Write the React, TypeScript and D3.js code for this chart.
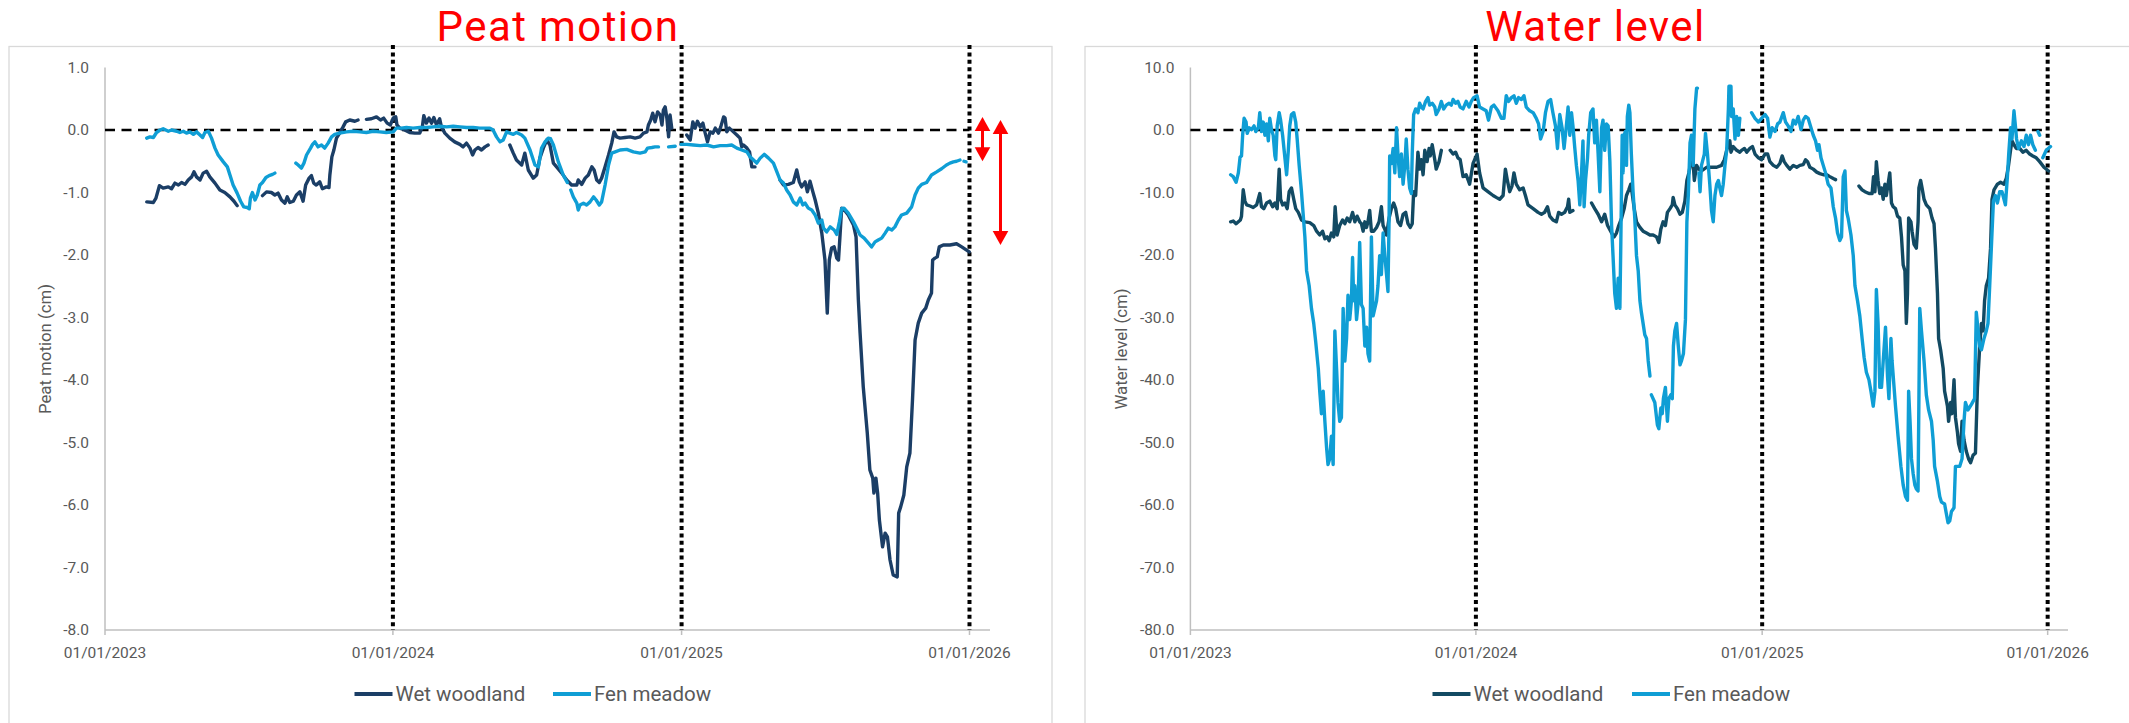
import React from 'react';
import * as d3 from 'd3';

type Pt = [number, number] | null;

// ---------- labels / categories ----------
const seriesNames = ['Wet woodland', 'Fen meadow'];
const peatTitle = 'Peat motion';
const waterTitle = 'Water level';
const peatAxisTitle = 'Peat motion (cm)';
const waterAxisTitle = 'Water level (cm)';
const yearTicks = [2023, 2024, 2025, 2026];
const dividerYears = [2024, 2025, 2026];
const peatTicks = [1, 0, -1, -2, -3, -4, -5, -6, -7, -8];
const waterTicks = [10, 0, -10, -20, -30, -40, -50, -60, -70, -80];
// red annotation arrows on the peat chart: [top, bottom] in cm
const peatArrows: [number, number][] = [[0.21, -0.5], [0.16, -1.84]];

// ---------- data: [decimal year, value], null = gap ----------
const peatWoodland: Pt[] = [
  [2023.145,-1.15],[2023.168,-1.16],[2023.177,-1.09],[2023.189,-0.89],[2023.202,-0.93],[2023.220,-0.91],[2023.231,-0.94],[2023.243,-0.85],[2023.255,-0.88],[2023.266,-0.84],[2023.278,-0.87],[2023.289,-0.80],[2023.301,-0.75],[2023.309,-0.67],[2023.318,-0.75],[2023.330,-0.80],[2023.341,-0.69],[2023.353,-0.66],[2023.364,-0.75],[2023.382,-0.85],[2023.399,-0.96],[2023.416,-1.00],[2023.434,-1.07],[2023.448,-1.14],[2023.459,-1.21],
  null,
  [2023.547,-1.05],[2023.561,-0.99],[2023.578,-1.00],[2023.590,-1.04],[2023.601,-1.01],[2023.613,-1.12],[2023.625,-1.17],[2023.633,-1.07],[2023.642,-1.16],[2023.654,-1.14],[2023.665,-1.04],[2023.677,-0.99],[2023.688,-1.14],[2023.697,-0.88],[2023.709,-0.77],[2023.717,-0.73],[2023.725,-0.85],[2023.734,-0.88],[2023.746,-0.83],[2023.755,-0.94],[2023.769,-0.91],[2023.778,-0.92],[2023.781,-0.72],[2023.788,-0.43],[2023.795,-0.32],[2023.804,-0.13],[2023.815,-0.05],[2023.827,0.05],[2023.836,0.13],[2023.850,0.16],[2023.868,0.14],[2023.879,0.16],
  null,
  [2023.908,0.17],[2023.925,0.18],[2023.943,0.21],[2023.957,0.16],[2023.968,0.19],[2023.980,0.11],[2023.991,0.08],[2024.001,0.19],[2024.010,0.21],[2024.014,0.08],[2024.024,0.03],[2024.041,0.00],[2024.058,-0.04],[2024.076,-0.05],[2024.093,-0.05],[2024.102,0.05],[2024.107,0.23],[2024.116,0.11],[2024.125,0.19],[2024.134,0.11],[2024.142,0.20],[2024.151,0.08],[2024.162,0.18],[2024.168,0.05],[2024.180,-0.05],[2024.197,-0.13],[2024.214,-0.19],[2024.232,-0.23],[2024.243,-0.27],[2024.255,-0.21],[2024.267,-0.29],[2024.276,-0.40],[2024.284,-0.32],[2024.295,-0.28],[2024.307,-0.32],[2024.319,-0.27],[2024.330,-0.24],
  null,
  [2024.405,-0.24],[2024.417,-0.37],[2024.428,-0.48],[2024.446,-0.56],[2024.457,-0.37],[2024.469,-0.64],[2024.486,-0.77],[2024.498,-0.72],[2024.509,-0.45],[2024.521,-0.29],[2024.533,-0.16],[2024.544,-0.24],[2024.556,-0.53],[2024.567,-0.59],[2024.585,-0.69],[2024.602,-0.80],[2024.619,-0.88],[2024.637,-0.88],[2024.642,-0.80],[2024.654,-0.87],[2024.666,-0.77],[2024.677,-0.72],[2024.689,-0.59],[2024.697,-0.64],[2024.706,-0.80],[2024.715,-0.84],[2024.723,-0.77],[2024.735,-0.59],[2024.747,-0.40],[2024.758,-0.21],[2024.766,-0.03],[2024.775,-0.11],[2024.787,-0.13],[2024.804,-0.12],[2024.822,-0.11],[2024.839,-0.13],[2024.856,-0.11],[2024.868,-0.05],[2024.880,-0.03],[2024.885,0.08],[2024.893,0.16],[2024.900,0.27],[2024.908,0.13],[2024.917,0.29],[2024.926,0.24],[2024.932,0.08],[2024.937,0.32],[2024.943,0.37],[2024.949,0.19],[2024.955,-0.11],[2024.960,0.24],[2024.966,0.03],
  null,
  [2025.018,-0.08],[2025.030,-0.16],[2025.039,0.13],[2025.047,0.03],[2025.055,0.14],[2025.065,0.05],[2025.074,0.11],[2025.082,-0.05],[2025.090,-0.19],[2025.099,-0.03],[2025.109,-0.05],[2025.117,0.03],[2025.128,-0.05],[2025.136,0.05],[2025.146,0.21],[2025.151,0.19],[2025.157,-0.03],[2025.166,0.03],[2025.180,-0.03],[2025.192,-0.08],[2025.203,-0.13],[2025.209,-0.27],[2025.215,-0.24],[2025.227,-0.29],[2025.236,-0.35],[2025.244,-0.59],[2025.255,-0.59],
  null,
  [2025.342,-0.80],[2025.354,-0.88],[2025.371,-0.87],[2025.388,-0.84],[2025.400,-0.64],[2025.409,-0.83],[2025.417,-0.91],[2025.429,-0.83],[2025.437,-0.99],[2025.446,-0.82],[2025.456,-0.99],[2025.464,-1.12],[2025.475,-1.33],[2025.487,-1.65],[2025.498,-2.08],[2025.506,-2.93],[2025.513,-2.08],[2025.521,-1.89],[2025.530,-1.87],[2025.539,-2.05],[2025.545,-2.08],[2025.550,-1.71],[2025.556,-1.25],[2025.564,-1.27],[2025.579,-1.36],[2025.597,-1.52],[2025.606,-1.71],[2025.614,-2.72],[2025.620,-3.25],[2025.631,-4.11],[2025.645,-4.85],[2025.654,-5.44],[2025.664,-5.57],[2025.668,-5.81],[2025.675,-5.57],[2025.681,-5.81],[2025.687,-6.24],[2025.698,-6.67],[2025.707,-6.45],[2025.715,-6.51],[2025.724,-6.88],[2025.735,-7.12],[2025.749,-7.15],[2025.754,-6.13],[2025.761,-6.03],[2025.772,-5.84],[2025.782,-5.39],[2025.793,-5.17],[2025.802,-4.32],[2025.811,-3.36],[2025.822,-3.09],[2025.834,-2.93],[2025.848,-2.85],[2025.857,-2.72],[2025.868,-2.61],[2025.872,-2.08],[2025.880,-2.05],[2025.888,-2.03],[2025.895,-1.87],[2025.909,-1.84],[2025.932,-1.84],[2025.955,-1.82],[2025.973,-1.87],[2025.999,-1.95],
];

const peatFen: Pt[] = [
  [2023.145,-0.13],[2023.156,-0.11],[2023.168,-0.12],[2023.179,-0.04],[2023.191,0.00],[2023.202,0.02],[2023.220,-0.02],[2023.231,0.00],[2023.249,-0.02],[2023.260,-0.04],[2023.272,-0.02],[2023.283,-0.05],[2023.295,-0.03],[2023.307,-0.07],[2023.318,-0.03],[2023.330,-0.08],[2023.339,-0.12],[2023.347,-0.04],[2023.359,-0.02],[2023.370,-0.13],[2023.382,-0.29],[2023.393,-0.40],[2023.411,-0.51],[2023.425,-0.59],[2023.434,-0.72],[2023.445,-0.88],[2023.459,-1.01],[2023.471,-1.14],[2023.482,-1.23],[2023.494,-1.24],[2023.501,-1.26],[2023.505,-1.09],[2023.512,-1.00],[2023.521,-1.12],[2023.529,-1.04],[2023.538,-0.88],[2023.547,-0.84],[2023.559,-0.76],[2023.570,-0.73],[2023.582,-0.71],[2023.590,-0.69],
  null,
  [2023.663,-0.53],[2023.671,-0.56],[2023.682,-0.61],[2023.691,-0.53],[2023.700,-0.40],[2023.714,-0.29],[2023.721,-0.23],[2023.729,-0.19],[2023.740,-0.27],[2023.752,-0.24],[2023.763,-0.29],[2023.775,-0.21],[2023.787,-0.11],[2023.798,-0.07],[2023.815,-0.05],[2023.839,-0.03],[2023.862,-0.02],[2023.885,-0.03],[2023.908,-0.04],[2023.931,-0.02],[2023.954,-0.03],[2023.977,-0.04],[2024.001,-0.03],[2024.012,0.03],[2024.029,0.03],[2024.047,0.04],[2024.070,0.03],[2024.093,0.04],[2024.116,0.04],[2024.139,0.05],[2024.162,0.06],[2024.186,0.05],[2024.209,0.06],[2024.232,0.05],[2024.255,0.04],[2024.278,0.04],[2024.301,0.03],[2024.336,0.03],[2024.347,0.00],[2024.359,-0.11],[2024.371,-0.19],[2024.382,-0.16],[2024.394,-0.03],[2024.405,-0.05],[2024.417,-0.07],[2024.428,-0.04],[2024.446,-0.08],[2024.457,-0.13],[2024.475,-0.32],[2024.492,-0.56],[2024.504,-0.59],[2024.515,-0.29],[2024.527,-0.19],[2024.538,-0.13],[2024.546,-0.14],[2024.556,-0.24],[2024.573,-0.51],[2024.590,-0.72],[2024.604,-0.84],
  null,
  [2024.616,-0.96],[2024.625,-1.07],[2024.637,-1.17],[2024.642,-1.28],[2024.648,-1.20],[2024.660,-1.17],[2024.671,-1.20],[2024.683,-1.15],[2024.695,-1.07],[2024.704,-1.12],[2024.715,-1.20],[2024.723,-1.15],[2024.735,-0.88],[2024.747,-0.56],[2024.758,-0.37],[2024.770,-0.35],[2024.787,-0.32],[2024.810,-0.31],[2024.833,-0.35],[2024.856,-0.37],[2024.874,-0.35],[2024.882,-0.29],[2024.897,-0.28],[2024.908,-0.27],[2024.920,-0.27],
  null,
  [2024.955,-0.27],[2024.978,-0.26],
  null,
  [2024.998,-0.23],[2025.018,-0.23],[2025.041,-0.24],[2025.065,-0.25],[2025.088,-0.24],[2025.111,-0.27],[2025.134,-0.25],[2025.157,-0.25],[2025.174,-0.24],[2025.192,-0.29],[2025.209,-0.32],[2025.227,-0.35],[2025.238,-0.43],[2025.250,-0.48],[2025.261,-0.53],[2025.273,-0.45],[2025.287,-0.39],[2025.302,-0.45],[2025.319,-0.53],[2025.331,-0.67],[2025.342,-0.80],[2025.354,-0.85],[2025.365,-0.96],[2025.377,-1.04],[2025.388,-1.15],[2025.400,-1.20],[2025.412,-1.09],[2025.421,-1.20],[2025.429,-1.17],[2025.440,-1.25],[2025.452,-1.28],[2025.464,-1.36],[2025.475,-1.49],[2025.487,-1.44],[2025.493,-1.57],[2025.504,-1.63],[2025.516,-1.55],[2025.530,-1.60],[2025.539,-1.67],[2025.548,-1.47],[2025.556,-1.26],[2025.564,-1.25],[2025.579,-1.33],[2025.597,-1.47],[2025.608,-1.57],[2025.620,-1.68],[2025.634,-1.73],[2025.649,-1.81],[2025.660,-1.87],[2025.672,-1.79],[2025.683,-1.76],[2025.695,-1.73],[2025.707,-1.65],[2025.718,-1.57],[2025.730,-1.60],[2025.741,-1.55],[2025.753,-1.44],[2025.764,-1.36],[2025.782,-1.33],[2025.799,-1.23],[2025.811,-1.04],[2025.822,-0.93],[2025.834,-0.87],[2025.851,-0.84],[2025.868,-0.72],[2025.886,-0.67],[2025.903,-0.62],[2025.920,-0.56],[2025.932,-0.53],[2025.944,-0.51],[2025.955,-0.50],[2025.967,-0.48],
  null,
  [2025.981,-0.50],[2025.988,-0.51],
];

const waterWoodland: Pt[] = [
  [2023.141,-14.69],[2023.150,-14.57],[2023.160,-14.99],[2023.175,-14.39],[2023.179,-13.79],[2023.185,-9.57],[2023.191,-11.38],[2023.197,-11.98],[2023.209,-12.16],[2023.220,-12.40],[2023.232,-11.98],[2023.243,-10.17],[2023.249,-12.28],[2023.257,-12.58],[2023.267,-11.68],[2023.278,-11.38],[2023.288,-12.28],[2023.296,-11.68],[2023.304,-12.58],[2023.311,-6.26],[2023.316,-11.08],[2023.323,-11.98],[2023.331,-11.68],[2023.339,-12.58],[2023.346,-9.87],[2023.354,-9.27],[2023.362,-11.08],[2023.369,-12.58],[2023.378,-13.18],[2023.389,-14.39],[2023.401,-14.69],[2023.418,-14.81],[2023.432,-15.29],[2023.442,-16.19],[2023.453,-16.80],[2023.463,-16.19],[2023.471,-17.40],[2023.479,-17.10],[2023.486,-17.70],[2023.494,-16.49],[2023.502,-17.10],[2023.507,-12.28],[2023.514,-16.80],[2023.523,-15.29],[2023.533,-14.39],[2023.541,-14.99],[2023.549,-14.09],[2023.558,-14.69],[2023.568,-13.18],[2023.576,-14.69],[2023.584,-13.79],[2023.593,-14.69],[2023.599,-14.99],[2023.605,-16.19],[2023.611,-14.69],[2023.617,-15.59],[2023.622,-14.69],[2023.628,-12.88],[2023.634,-16.19],[2023.642,-16.19],[2023.652,-15.59],[2023.661,-14.69],[2023.669,-12.28],[2023.675,-15.29],[2023.681,-15.89],[2023.687,-16.80],[2023.696,-14.09],[2023.704,-12.58],[2023.712,-11.68],[2023.719,-12.58],[2023.727,-14.69],[2023.736,-15.29],[2023.745,-13.48],[2023.754,-13.18],[2023.762,-14.99],[2023.770,-15.59],[2023.777,-14.99],[2023.782,-9.87],[2023.789,-10.48],[2023.797,-3.55],[2023.803,-6.26],[2023.809,-4.75],[2023.815,-7.16],[2023.821,-3.25],[2023.829,-5.06],[2023.836,-2.95],[2023.840,-4.15],[2023.847,-2.35],[2023.856,-4.75],[2023.861,-6.26],[2023.871,-5.06],[2023.879,-3.25],
  null,
  [2023.910,-3.25],[2023.920,-3.85],[2023.929,-3.55],[2023.937,-4.45],[2023.945,-4.75],[2023.955,-7.46],[2023.966,-7.16],[2023.978,-8.67],[2023.990,-5.36],[2024.004,-3.85],[2024.013,-6.86],[2024.025,-9.27],[2024.042,-9.87],[2024.060,-10.48],[2024.071,-10.78],[2024.083,-11.08],[2024.095,-10.48],[2024.103,-6.26],[2024.110,-8.07],[2024.118,-9.87],[2024.126,-8.97],[2024.133,-6.86],[2024.141,-8.67],[2024.153,-9.57],[2024.165,-9.27],[2024.173,-10.48],[2024.182,-11.98],[2024.200,-12.58],[2024.217,-13.18],[2024.229,-13.48],[2024.240,-13.18],[2024.250,-12.28],[2024.258,-13.79],[2024.269,-14.39],[2024.281,-14.69],[2024.289,-13.18],[2024.299,-13.48],[2024.310,-13.18],[2024.320,-12.28],[2024.324,-11.08],[2024.328,-13.18],[2024.339,-12.88],
  null,
  [2024.404,-11.68],[2024.415,-12.58],[2024.427,-13.48],[2024.439,-14.69],[2024.450,-13.48],[2024.460,-15.29],[2024.474,-16.49],[2024.483,-17.10],[2024.491,-16.49],[2024.499,-15.29],[2024.509,-14.09],[2024.518,-12.58],[2024.526,-10.48],[2024.534,-9.57],[2024.541,-8.67],[2024.546,-10.17],[2024.553,-12.58],[2024.561,-14.69],[2024.573,-15.59],[2024.584,-16.19],[2024.596,-16.49],[2024.608,-16.80],[2024.619,-16.80],[2024.631,-17.10],[2024.639,-18.00],[2024.646,-15.89],[2024.654,-14.69],[2024.662,-15.29],[2024.669,-13.18],[2024.678,-12.58],[2024.686,-11.98],[2024.689,-10.78],[2024.695,-11.98],[2024.704,-12.58],[2024.713,-13.48],[2024.721,-13.18],[2024.730,-11.38],[2024.737,-8.07],[2024.744,-6.86],[2024.751,-5.06],[2024.756,-3.55],[2024.763,-8.07],[2024.771,-5.66],[2024.779,-6.26],[2024.788,-6.56],[2024.806,-5.96],[2024.823,-5.96],[2024.841,-5.96],[2024.858,-5.66],[2024.868,-4.75],[2024.876,-3.25],[2024.884,-2.05],[2024.887,-1.74],[2024.891,-3.55],[2024.899,-2.65],[2024.911,-3.25],[2024.922,-3.55],[2024.928,-3.25],[2024.938,-2.95],[2024.946,-3.55],[2024.957,-2.95],[2024.966,-2.65],[2024.975,-3.85],[2024.987,-4.45],[2024.998,-4.75],[2025.010,-3.85],[2025.019,-3.85],[2025.027,-5.06],[2025.039,-5.66],[2025.051,-5.96],[2025.062,-5.36],[2025.070,-4.15],[2025.077,-5.06],[2025.086,-5.66],[2025.097,-6.26],[2025.109,-5.66],[2025.121,-5.96],[2025.132,-5.66],[2025.144,-5.54],[2025.152,-4.75],[2025.159,-5.06],[2025.167,-5.96],[2025.179,-6.26],[2025.191,-6.74],[2025.202,-6.98],[2025.214,-7.16],[2025.226,-7.16],[2025.237,-7.46],[2025.249,-7.76],[2025.257,-7.94],
  null,
  [2025.339,-8.97],[2025.350,-9.57],[2025.360,-9.87],[2025.374,-10.17],[2025.385,-10.17],[2025.390,-7.46],[2025.395,-9.87],[2025.400,-5.06],[2025.406,-8.07],[2025.412,-10.17],[2025.418,-9.27],[2025.424,-11.08],[2025.430,-8.67],[2025.435,-10.48],[2025.441,-8.67],[2025.447,-6.86],[2025.453,-11.68],[2025.459,-12.28],[2025.467,-12.58],[2025.474,-13.79],[2025.482,-14.09],[2025.488,-17.10],[2025.494,-21.61],[2025.500,-22.51],[2025.505,-30.94],[2025.509,-26.13],[2025.513,-14.09],[2025.521,-14.69],[2025.525,-16.19],[2025.532,-18.30],[2025.540,-18.90],[2025.546,-14.69],[2025.549,-9.27],[2025.555,-8.07],[2025.560,-9.27],[2025.567,-11.08],[2025.575,-11.98],[2025.587,-12.58],[2025.595,-14.09],[2025.602,-14.99],[2025.607,-18.90],[2025.614,-26.13],[2025.618,-33.35],[2025.625,-35.16],[2025.634,-38.17],[2025.639,-41.78],[2025.649,-44.19],[2025.653,-46.60],[2025.660,-43.59],[2025.665,-45.39],[2025.672,-39.97],[2025.677,-45.99],[2025.684,-48.40],[2025.688,-50.21],[2025.695,-51.41],[2025.700,-46.60],[2025.707,-49.61],[2025.715,-51.41],[2025.723,-52.62],[2025.730,-53.22],[2025.739,-52.01],[2025.747,-51.71],[2025.754,-41.18],[2025.762,-34.56],[2025.768,-30.94],[2025.774,-32.15],[2025.779,-27.33],[2025.785,-24.92],[2025.793,-23.72],[2025.800,-18.90],[2025.805,-11.08],[2025.812,-9.57],[2025.824,-8.67],[2025.835,-8.37],[2025.847,-8.67],[2025.855,-7.76],[2025.863,-5.66],[2025.870,-3.25],[2025.875,-1.74],[2025.882,-2.35],[2025.890,-2.95],[2025.902,-2.95],[2025.913,-3.55],[2025.925,-3.25],[2025.937,-3.85],[2025.948,-4.15],[2025.960,-4.45],[2025.972,-5.06],[2025.987,-5.96],[2026.003,-6.56],
];

const waterFen: Pt[] = [
  [2023.141,-7.16],[2023.150,-7.46],[2023.160,-8.37],[2023.168,-6.86],[2023.174,-4.33],[2023.179,-4.15],[2023.183,-0.84],[2023.188,1.87],[2023.195,1.27],[2023.199,-0.54],[2023.206,0.36],[2023.214,0.06],[2023.223,0.66],[2023.229,-0.24],[2023.238,0.36],[2023.243,2.77],[2023.249,-0.24],[2023.255,1.27],[2023.261,-0.84],[2023.267,0.97],[2023.273,-1.74],[2023.278,1.87],[2023.284,0.06],[2023.290,-0.84],[2023.296,-4.15],[2023.299,-4.75],[2023.304,0.66],[2023.311,2.77],[2023.316,1.57],[2023.323,-0.84],[2023.331,-4.45],[2023.337,-7.16],[2023.343,-3.25],[2023.348,0.66],[2023.354,2.47],[2023.362,2.77],[2023.369,1.27],[2023.374,-1.44],[2023.381,-5.66],[2023.389,-9.87],[2023.401,-17.10],[2023.407,-22.51],[2023.416,-24.92],[2023.424,-28.54],[2023.432,-30.94],[2023.439,-33.95],[2023.448,-38.17],[2023.453,-41.78],[2023.459,-45.39],[2023.465,-41.78],[2023.471,-46.60],[2023.477,-50.81],[2023.482,-53.52],[2023.488,-52.62],[2023.494,-49.00],[2023.500,-53.52],[2023.506,-32.15],[2023.512,-38.17],[2023.517,-43.59],[2023.523,-46.60],[2023.529,-46.00],[2023.535,-28.54],[2023.541,-36.96],[2023.547,-33.35],[2023.552,-26.43],[2023.558,-30.34],[2023.564,-27.33],[2023.568,-20.41],[2023.572,-27.33],[2023.576,-24.92],[2023.582,-30.34],[2023.587,-27.93],[2023.593,-18.00],[2023.599,-27.93],[2023.605,-28.54],[2023.611,-34.56],[2023.617,-31.55],[2023.622,-35.76],[2023.628,-36.96],[2023.634,-17.10],[2023.640,-29.74],[2023.646,-28.54],[2023.652,-27.33],[2023.657,-24.92],[2023.663,-20.11],[2023.669,-23.12],[2023.675,-16.49],[2023.681,-20.11],[2023.687,-23.12],[2023.692,-25.83],[2023.696,-14.09],[2023.698,-4.15],[2023.704,-5.36],[2023.710,-2.95],[2023.716,-6.86],[2023.722,0.36],[2023.727,-3.85],[2023.733,-7.46],[2023.739,-3.85],[2023.745,-8.67],[2023.751,-5.66],[2023.756,-1.44],[2023.762,-6.26],[2023.768,-9.27],[2023.774,-10.17],[2023.777,-3.85],[2023.782,2.47],[2023.789,3.37],[2023.797,2.77],[2023.803,4.28],[2023.809,3.67],[2023.815,3.37],[2023.824,4.58],[2023.832,5.18],[2023.838,3.98],[2023.847,4.28],[2023.856,3.67],[2023.861,2.47],[2023.871,3.37],[2023.879,4.58],[2023.887,3.37],[2023.896,3.98],[2023.906,4.28],[2023.914,3.98],[2023.920,4.88],[2023.929,4.28],[2023.937,4.58],[2023.945,3.67],[2023.955,3.37],[2023.966,4.58],[2023.976,3.67],[2023.984,4.58],[2023.992,5.18],[2024.004,5.48],
  [2024.013,3.67],[2024.025,3.37],[2024.036,3.07],[2024.044,1.57],[2024.054,3.67],[2024.063,3.98],[2024.077,3.07],[2024.089,1.87],[2024.098,1.87],[2024.106,5.48],[2024.114,4.58],[2024.124,5.18],[2024.133,5.48],[2024.141,4.28],[2024.149,5.18],[2024.159,4.88],[2024.168,5.48],[2024.176,3.67],[2024.188,3.07],[2024.200,2.77],[2024.211,1.87],[2024.219,0.97],[2024.226,-1.44],[2024.235,-0.24],[2024.243,2.77],[2024.252,4.58],[2024.261,4.88],[2024.269,2.77],[2024.278,0.66],[2024.285,-2.95],[2024.293,2.47],[2024.301,0.36],[2024.308,-2.95],[2024.316,0.66],[2024.322,3.67],[2024.328,-0.84],[2024.334,2.77],[2024.339,0.66],[2024.345,-2.65],[2024.351,-5.66],[2024.357,-8.07],[2024.363,-11.98],[2024.369,-6.86],[2024.374,-1.74],[2024.378,-12.28],[2024.383,-8.07],[2024.390,-4.45],[2024.394,-0.84],[2024.401,2.77],[2024.409,3.37],[2024.415,-2.05],[2024.421,1.57],[2024.427,-3.85],[2024.433,-9.87],[2024.439,0.36],[2024.444,1.57],[2024.450,-3.25],[2024.456,0.97],[2024.462,0.66],[2024.468,-5.06],[2024.474,-15.29],[2024.479,-20.11],[2024.485,-26.13],[2024.491,-28.54],[2024.497,-23.72],[2024.503,-28.54],[2024.506,-18.90],[2024.511,-0.84],[2024.514,-6.86],[2024.518,-0.84],[2024.522,-0.24],[2024.526,-5.66],[2024.529,2.17],[2024.534,3.98],[2024.538,2.77],[2024.543,-3.85],[2024.549,-9.87],[2024.555,-14.09],[2024.561,-20.11],[2024.567,-22.51],[2024.573,-27.33],[2024.578,-29.14],[2024.584,-30.94],[2024.590,-32.75],[2024.596,-33.35],[2024.602,-36.96],[2024.608,-39.37],
  null,
  [2024.613,-42.38],[2024.625,-43.59],[2024.634,-47.20],[2024.639,-47.80],[2024.646,-44.49],[2024.651,-45.39],[2024.655,-42.98],[2024.662,-41.18],[2024.669,-46.60],[2024.674,-42.98],[2024.681,-42.38],[2024.686,-42.98],[2024.690,-34.56],[2024.695,-32.15],[2024.701,-30.94],[2024.707,-34.56],[2024.713,-37.57],[2024.718,-36.96],[2024.725,-35.76],[2024.732,-30.34],[2024.737,-14.69],[2024.742,-10.48],[2024.748,-2.05],[2024.753,-0.84],[2024.759,-5.66],[2024.765,3.37],[2024.771,6.68],[2024.774,6.68],
  null,
  [2024.779,-6.86],[2024.783,-9.87],[2024.788,-5.66],[2024.798,-3.85],[2024.802,-0.54],[2024.809,-3.85],[2024.817,-8.67],[2024.823,-12.88],[2024.829,-14.69],[2024.835,-10.48],[2024.841,-8.67],[2024.847,-8.07],[2024.852,-9.27],[2024.858,-10.48],[2024.864,-8.67],[2024.870,-5.66],[2024.876,-3.25],[2024.882,3.37],[2024.884,6.99],[2024.891,6.99],[2024.893,2.17],[2024.899,3.37],[2024.905,-1.44],[2024.911,2.17],[2024.917,-0.84],[2024.922,1.87],
  null,
  [2024.963,2.77],[2024.975,1.87],[2024.987,1.27],[2024.998,1.87],[2025.010,2.47],[2025.019,1.87],[2025.027,-1.14],[2025.035,0.36],[2025.045,-0.24],[2025.054,0.97],[2025.062,1.27],[2025.074,2.77],[2025.082,1.27],[2025.091,0.66],[2025.101,-0.24],[2025.109,1.57],[2025.117,0.97],[2025.126,2.17],[2025.136,0.06],[2025.144,1.57],[2025.152,2.17],[2025.161,1.87],[2025.171,0.36],[2025.179,-0.84],[2025.187,-1.74],[2025.194,-3.25],[2025.199,-2.35],[2025.206,-4.45],[2025.214,-5.66],[2025.222,-6.86],[2025.231,-8.67],[2025.241,-9.27],[2025.249,-12.28],[2025.257,-14.09],[2025.264,-16.49],[2025.272,-17.70],[2025.278,-17.10],[2025.284,-7.46],[2025.290,-6.56],[2025.295,-12.88],[2025.301,-14.09],[2025.311,-16.80],[2025.319,-20.11],[2025.325,-24.92],[2025.334,-27.33],[2025.342,-29.74],[2025.350,-33.35],[2025.357,-36.36],[2025.365,-38.77],[2025.374,-39.97],[2025.381,-41.78],[2025.389,-44.19],[2025.395,-41.78],[2025.400,-25.52],[2025.406,-30.94],[2025.412,-41.18],[2025.418,-41.18],[2025.424,-36.96],[2025.432,-31.55],[2025.439,-39.37],[2025.444,-42.98],[2025.451,-33.35],[2025.455,-36.96],[2025.462,-41.18],[2025.467,-44.19],[2025.476,-49.00],[2025.486,-53.82],[2025.494,-56.83],[2025.502,-58.64],[2025.509,-59.24],[2025.513,-41.78],[2025.518,-46.60],[2025.523,-52.62],[2025.529,-55.03],[2025.535,-56.83],[2025.540,-57.43],[2025.546,-57.74],[2025.552,-28.54],[2025.558,-32.15],[2025.567,-36.96],[2025.575,-42.38],[2025.583,-44.79],[2025.593,-46.60],[2025.599,-49.61],[2025.604,-53.82],[2025.614,-56.23],[2025.622,-58.64],[2025.628,-59.54],[2025.639,-59.84],[2025.645,-61.35],[2025.651,-62.85],[2025.657,-62.55],[2025.663,-61.05],[2025.672,-60.44],[2025.677,-53.82],[2025.692,-53.82],[2025.700,-52.62],[2025.707,-46.60],[2025.712,-43.59],[2025.721,-44.79],[2025.733,-43.89],[2025.744,-42.98],[2025.750,-29.14],[2025.762,-34.56],[2025.768,-35.16],[2025.777,-33.35],[2025.785,-32.15],[2025.791,-30.94],[2025.797,-24.92],[2025.805,-16.49],[2025.810,-11.38],[2025.817,-10.48],[2025.824,-11.68],[2025.832,-9.87],[2025.840,-9.87],[2025.847,-11.08],[2025.852,-11.98],[2025.859,-7.46],[2025.864,-3.55],[2025.870,0.36],[2025.875,-1.44],[2025.882,3.07],[2025.887,0.66],[2025.891,-1.44],[2025.898,-2.95],[2025.908,-1.74],[2025.917,-2.65],[2025.925,-0.84],[2025.933,-2.35],[2025.940,-0.84],[2025.948,-2.35],[2025.957,-3.25],
  null,
  [2025.966,-0.24],[2025.972,-0.84],
  null,
  [2025.983,-4.45],[2025.995,-3.25],[2026.010,-2.65],
];

// ---------- helpers ----------
const toDate = (t: number) => {
  const y = Math.floor(t);
  const s = Date.UTC(y, 0, 1);
  const e = Date.UTC(y + 1, 0, 1);
  return new Date(s + (t - y) * (e - s));
};

const FONT = 'Roboto, "Noto Sans", sans-serif';
const GRAY = '#595959';

type PanelProps = {
  boxX: number; boxW: number;
  axisX: number; axisEnd: number;
  title: string; titleX: number;
  axisTitle: string; axisTitleX: number;
  ticks: number[]; yDomain: [number, number];
  series: Pt[][]; colors: string[];
  legendX: number[];
  arrows?: [number, number][];
};

function Panel(p: PanelProps) {
  const yTop = 67.5, yBot = 630;
  const x = d3.scaleUtc()
    .domain([new Date(Date.UTC(2023, 0, 1)), new Date(Date.UTC(2026, 0, 27))])
    .range([p.axisX, p.axisEnd]);
  const y = d3.scaleLinear().domain(p.yDomain).range([yBot, yTop]);
  const line = d3.line<Pt>()
    .defined((d) => d !== null)
    .x((d) => x(toDate((d as [number, number])[0])))
    .y((d) => y((d as [number, number])[1]));
  const yearX = (yr: number) => x(new Date(Date.UTC(yr, 0, 1)));
  const x2026 = yearX(2026);
  return (
    <g>
      <rect x={p.boxX} y={46.5} width={p.boxW} height={720} fill="#fff" stroke="#D9D9D9" strokeWidth={1.3} />
      <text x={p.titleX} y={41} textAnchor="middle" fontSize={42} letterSpacing={1.4} fill="#FF0000" fontFamily={FONT}>{p.title}</text>
      {/* axes */}
      <line x1={p.axisX} x2={p.axisX} y1={yTop} y2={yBot} stroke="#BFBFBF" strokeWidth={1.5} />
      <line x1={p.axisX} x2={p.axisEnd} y1={yBot} y2={yBot} stroke="#BFBFBF" strokeWidth={1.5} />
      {yearTicks.map((yr) => (
        <g key={yr}>
          <line x1={yearX(yr)} x2={yearX(yr)} y1={yBot} y2={yBot + 5} stroke="#BFBFBF" strokeWidth={1.5} />
          <text x={yearX(yr)} y={658} textAnchor="middle" fontSize={15.5} fill={GRAY} fontFamily={FONT}>{`01/01/${yr}`}</text>
        </g>
      ))}
      {p.ticks.map((t) => (
        <text key={t} x={p.axisX - 16} y={y(t)} dy="0.35em" textAnchor="end" fontSize={15.5} fill={GRAY} fontFamily={FONT}>{t.toFixed(1)}</text>
      ))}
      <text transform={`translate(${p.axisTitleX},349) rotate(-90)`} textAnchor="middle" dy="0.35em" fontSize={16.8} fill={GRAY} fontFamily={FONT}>{p.axisTitle}</text>
      {/* reference lines */}
      <line x1={p.axisX} x2={x2026} y1={y(0)} y2={y(0)} stroke="#000" strokeWidth={2.6} strokeDasharray="10 6.5" />
      {dividerYears.map((yr) => (
        <line key={yr} x1={yearX(yr)} x2={yearX(yr)} y1={45} y2={yBot} stroke="#000" strokeWidth={4} strokeDasharray="4 3.4" />
      ))}
      {/* series */}
      {p.series.map((s, i) => (
        <path key={i} d={line(s) || ''} fill="none" stroke={p.colors[i]} strokeWidth={3.4} strokeLinejoin="round" strokeLinecap="round" />
      ))}
      {/* arrows */}
      {(p.arrows || []).map(([a, b], i) => {
        const ax = x2026 + (i === 0 ? 13 : 31);
        const t = y(a), bt = y(b), hw = 7.8, hl = 14;
        return (
          <g key={i} fill="#FF0000" stroke="none">
            <line x1={ax} x2={ax} y1={t + hl - 2} y2={bt - hl + 2} stroke="#FF0000" strokeWidth={3} />
            <polygon points={`${ax},${t} ${ax - hw},${t + hl} ${ax + hw},${t + hl}`} />
            <polygon points={`${ax},${bt} ${ax - hw},${bt - hl} ${ax + hw},${bt - hl}`} />
          </g>
        );
      })}
      {/* legend */}
      {seriesNames.map((n, i) => (
        <g key={n}>
          <line x1={p.legendX[i]} x2={p.legendX[i] + 38} y1={694} y2={694} stroke={p.colors[i]} strokeWidth={4} />
          <text x={p.legendX[i] + 41} y={700.5} fontSize={20.5} fill={GRAY} fontFamily={FONT}>{n}</text>
        </g>
      ))}
    </g>
  );
}

export default function App() {
  return (
    <svg width={2129} height={723} style={{ position: 'absolute', left: 0, top: 0, background: '#fff' }}>
      <rect x={0} y={0} width={2129} height={723} fill="#fff" />
      <Panel boxX={9} boxW={1043} axisX={105} axisEnd={990} title={peatTitle} titleX={558}
        axisTitle={peatAxisTitle} axisTitleX={45} ticks={peatTicks} yDomain={[-8, 1]}
        series={[peatWoodland, peatFen]} colors={['#1B3E66', '#0F9ED5']} legendX={[354.5, 553]}
        arrows={peatArrows} />
      <Panel boxX={1085} boxW={1100} axisX={1190.4} axisEnd={2068} title={waterTitle} titleX={1595.5}
        axisTitle={waterAxisTitle} axisTitleX={1121.5} ticks={waterTicks} yDomain={[-80, 10]}
        series={[waterWoodland, waterFen]} colors={['#124A63', '#0F9ED5']} legendX={[1432.5, 1632]} />
    </svg>
  );
}
